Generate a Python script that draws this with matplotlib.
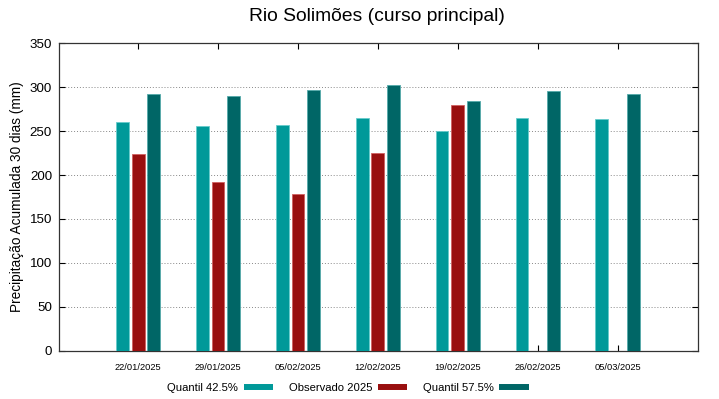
import numpy as np
import matplotlib
matplotlib.use("Agg")
import matplotlib.pyplot as plt
from matplotlib.lines import Line2D

plt.rcParams['font.family'] = ['Liberation Sans', 'DejaVu Sans']

# dados (mm)
datas = ['22/01/2025', '29/01/2025', '05/02/2025', '12/02/2025',
         '19/02/2025', '26/02/2025', '05/03/2025']
quantil_425 = [260, 256, 257, 265, 250, 265, 264]
observado_2025 = [224, 192, 178, 225, 280, np.nan, np.nan]
quantil_575 = [292, 290, 297, 302, 284, 296, 292]

cor_q425 = '#009999'
cor_obs = '#990f0f'
cor_q575 = '#006666'

fig = plt.figure(figsize=(7.19, 3.99), dpi=100)
ax = fig.add_axes([59 / 719, 1 - 350.7 / 399, 638.5 / 719, 307.4 / 399])

x = np.arange(len(datas))
largura = 0.16
desloc = 0.197
ax.bar(x - desloc, quantil_425, largura, color=cor_q425, edgecolor='#66cccc', linewidth=0.6, zorder=3)
ax.bar(x, observado_2025, largura, color=cor_obs, edgecolor='#d06060', linewidth=0.6, zorder=3)
ax.bar(x + desloc, quantil_575, largura, color=cor_q575, edgecolor='#55aaaa', linewidth=0.6, zorder=3)

ax.set_xlim(-0.99, 7.0)
ax.set_ylim(0, 350)
ax.set_xticks(x)
ax.set_xticklabels(datas, fontsize=6.7)
ax.set_yticks(np.arange(0, 351, 50))
ax.tick_params(axis='y', labelsize=9.6, direction='in', length=4, right=True, pad=5, width=0.8)
ax.tick_params(axis='x', direction='in', length=4, top=True, pad=9, width=0.8)
ax.yaxis.grid(True, linestyle=(0, (1, 2)), color='#888888', linewidth=0.7, zorder=0)
ax.set_axisbelow(True)
for s in ax.spines.values():
    s.set_color('#333333')
    s.set_linewidth(0.9)

ax.set_ylabel('Precipitação Acumulada 30 dias (mm)', fontsize=9.8, labelpad=4)
fig.suptitle('Rio Solimões (curso principal)', fontsize=13.9, x=377 / 719, y=1 - 8 / 399, va='top')

alcas = [Line2D([], [], color=cor_q425, linewidth=4.3, solid_capstyle='butt'),
         Line2D([], [], color=cor_obs, linewidth=4.3, solid_capstyle='butt'),
         Line2D([], [], color=cor_q575, linewidth=4.3, solid_capstyle='butt')]
fig.legend(alcas, ['Quantil 42.5%', 'Observado 2025', 'Quantil 57.5%'],
           loc='center', bbox_to_anchor=(348 / 719, 1 - 388 / 399), ncol=3,
           frameon=False, markerfirst=False, fontsize=8.1, handlelength=2.6,
           handletextpad=0.5, columnspacing=1.4, borderaxespad=0, borderpad=0)

fig.savefig('out.png', dpi=100)
